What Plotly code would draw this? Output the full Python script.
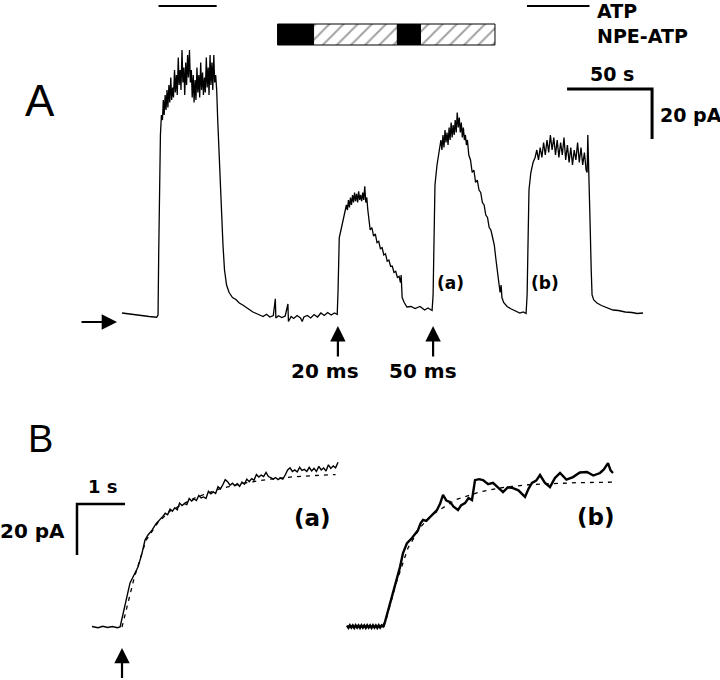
import plotly.graph_objects as go

# ---------------- Panel A data: whole-cell current (pA) vs time (s) ----------------
panel_a_trace = [
    (0, 0.8), (4, 0.4), (8, 0.2), (12, -0.2), (16, -0.6), (20.4, -0.9),
    (21.2, 0), (21.6, 25), (22.1, 55), (22.6, 72), (23.2, 80), (23.8, 78),
    (24.3, 86), (24.8, 80), (25.4, 88), (25.9, 82), (26.5, 90), (27.0, 83), (27.6, 92), (28.1, 85),
    (28.7, 95), (29.2, 86), (29.8, 91), (30.3, 87), (30.9, 98), (31.4, 89), (32.0, 96), (32.5, 88),
    (33.1, 103), (33.6, 92), (34.2, 98), (34.7, 90), (35.3, 106), (35.8, 93), (36.4, 99), (36.9, 88),
    (37.5, 101), (38.0, 92), (38.6, 104), (39.1, 95), (39.7, 106), (40.2, 93), (40.8, 98), (41.3, 87),
    (41.9, 96), (42.4, 85), (43.0, 94), (43.5, 86), (44.1, 99), (44.6, 89), (45.2, 96), (45.7, 87),
    (46.3, 101), (46.8, 90), (47.4, 97), (47.9, 88), (48.5, 95), (49.0, 89), (49.6, 103), (50.1, 91),
    (50.7, 99), (51.2, 88), (51.8, 104), (52.3, 92), (52.9, 101), (53.4, 90), (54.0, 104), (54.5, 93),
    (55.1, 96),
    (55.7, 90), (56.3, 78), (57.0, 65), (57.7, 55), (58.5, 40), (59.4, 28), (60.3, 18), (61.5, 12),
    (63.0, 9), (65, 7), (67, 6.2), (69, 4.8), (71, 4), (73, 3), (75, 2.2), (77, 1.2), (79, 0.6),
    (81, 0), (83, -0.6), (85, 0.3), (87, -0.8), (89, -0.2), (90.2, 6.5), (90.5, -1.2), (92, -0.3),
    (94, -1.0), (96, -0.4), (97.6, 4.4), (97.9, -2.6), (99.5, -0.6), (101, -1.4), (103, -0.2),
    (105, -1.2), (106, -2.6), (107, -0.8), (109, -0.2), (111, -1.2), (113, 0.2), (115, -0.8),
    (117, 0.8), (119, -0.2), (121, 1.0), (123, 0.0), (125, 0.8), (126.6, 0.2),
    (127.1, 10), (127.4, 26), (127.8, 31), (128.8, 34), (130, 38), (131.2, 41), (132, 44), (132.6, 42),
    (133.2, 46), (133.8, 43), (134.4, 47), (135, 44), (135.6, 48), (136.2, 45), (136.8, 49), (137.4, 45.5),
    (138, 48.5), (138.6, 45), (139.2, 49.5), (139.8, 46), (140.4, 48), (141, 45.5), (141.6, 49), (142.2, 46),
    (142.8, 51.5), (143.4, 45), (144, 47), (144.6, 42), (145.4, 37), (146, 34), (147, 35), (148, 31.5),
    (149, 32.5), (150, 29), (151, 29.5), (152, 26.5), (153, 27), (154, 24), (155, 24.5), (156, 21.5),
    (157, 22), (158, 19.5), (159, 19.5), (160, 17), (161, 17.5), (162, 15), (163, 15.5), (163.8, 13),
    (164.2, 16), (164.8, 7), (166, 5), (167.6, 3.2), (170, 3.4), (172.4, 2.6), (175.3, 3.4), (178, 2),
    (180, 2.8), (182.4, 1.8),
    (183.0, 8), (183.3, 26), (184.1, 52), (185.3, 60), (186.2, 64), (187, 66), (187.6, 70), (188.2, 66),
    (188.8, 72), (189.4, 67), (190, 74), (190.6, 69), (191.2, 73), (191.8, 68), (192.4, 75), (193, 70),
    (193.6, 77), (194.2, 71), (194.8, 76), (195.4, 72), (196, 78), (196.6, 73), (197.2, 81), (197.8, 75),
    (198.4, 79), (199, 73), (199.6, 77), (200.2, 71), (200.8, 75), (201.4, 70), (202, 72), (202.6, 68),
    (203.2, 70), (204, 64), (205, 62), (206, 57), (207, 58), (208, 53), (209, 54), (210, 50), (211, 49),
    (212, 45), (213, 44), (214, 40), (215, 39), (216, 35), (217, 34), (218, 31), (219, 28), (220, 22),
    (220.6, 19), (221.5, 14), (222.4, 9), (223, 12), (223.5, 7), (224.5, 5), (226.5, 3.4), (229, 2.4),
    (231, 1.8), (234, 0.8), (236, 1.2), (237.7, 0.6),
    (238.3, 8), (238.8, 26), (239.4, 50), (240.5, 57), (241.8, 61), (243, 63), (244, 66), (245, 62),
    (246, 67), (247, 63), (248, 69), (249, 64), (250, 70), (251, 65), (252, 72), (253, 66), (254, 71),
    (255, 64), (256, 70), (257, 63), (258, 69), (259, 64), (260, 71), (261, 62), (262, 68), (263, 61),
    (264, 67), (265, 60), (266, 66), (267, 62), (268, 69), (269, 61), (270, 67), (271, 60), (272, 65),
    (273, 58), (273.6, 57), (274, 72), (274.6, 60), (275.3, 38), (276, 18), (276.5, 8), (277.5, 6),
    (279.4, 4.8), (282, 3.8), (284, 3.2), (286, 2.8), (288.8, 2.0), (292, 1.8), (296, 1.2), (300, 1.0),
    (303, 0.6), (306.5, 0.8),
]

# ATP application periods (s)
atp_on = [21.5, 238.2]
atp_off = [55.7, 275.0]

# NPE-ATP (caged ATP) bar segments: start (s), end (s), kind
npe_start = [91.5, 112.7, 162.0, 175.6]
npe_end = [112.7, 162.0, 175.6, 219.4]
npe_kind = ["solid", "hatched", "solid", "hatched"]

# photolysis flashes (s) and their durations
flash_times_a = [127.0, 183.0]
flash_labels = ["20 ms", "50 ms"]

# ---------------- Panel B data: expanded onsets (t=0 at flash) ----------------
panel_b_a = [
    (-0.625, 0.2), (-0.5, -0.3), (-0.4, 0.3), (-0.3, -0.2), (-0.2, 0.2), (-0.1, -0.3), (-0.04, 0.0),
    (0.021, 5.5), (0.104, 11.8), (0.167, 17.3), (0.271, 21.2), (0.333, 23.5), (0.417, 29.0),
    (0.479, 34.1), (0.542, 36.1), (0.625, 38.0), (0.71, 40.5), (0.792, 42.0),
    (0.85, 43.4), (0.9, 44.6), (0.95, 44.0), (1.0, 46.2), (1.05, 45.4), (1.1, 46.8), (1.15, 46.0),
    (1.2, 48.6), (1.25, 47.6), (1.3, 48.4), (1.35, 48.0), (1.4, 50.4), (1.45, 49.4), (1.5, 50.2),
    (1.55, 49.6), (1.6, 51.6), (1.65, 50.6), (1.7, 51.0), (1.75, 50.4), (1.8, 53.2), (1.85, 52.2),
    (1.9, 53.0), (1.95, 52.4), (2.0, 55.0), (2.05, 54.2), (2.1, 55.8), (2.15, 57.8), (2.2, 57.0),
    (2.25, 55.6), (2.3, 56.4), (2.35, 55.4), (2.4, 56.2), (2.45, 55.2), (2.5, 56.8), (2.55, 56.0),
    (2.6, 58.0), (2.65, 57.0), (2.7, 58.2), (2.75, 57.6), (2.8, 59.8), (2.85, 58.8), (2.9, 59.6),
    (2.95, 59.0), (3.0, 60.6), (3.05, 59.0), (3.1, 58.6), (3.15, 58.0), (3.2, 58.6), (3.25, 57.8),
    (3.3, 58.4), (3.35, 58.0), (3.4, 59.6), (3.45, 61.6), (3.5, 62.4), (3.55, 61.0), (3.6, 61.6),
    (3.65, 60.8), (3.7, 62.6), (3.75, 61.4), (3.8, 61.8), (3.85, 61.0), (3.9, 62.6), (3.95, 61.2),
    (4.0, 62.2), (4.05, 61.0), (4.1, 63.0), (4.15, 61.6), (4.2, 62.4), (4.25, 61.2), (4.3, 63.6),
    (4.35, 62.2), (4.4, 63.2), (4.45, 62.4), (4.5, 64.6),
]
fit_b_a = [(0.0, 0), (0.25, 19), (0.5, 34), (0.75, 41), (1.0, 45.5), (1.5, 50.5), (2.0, 54),
           (2.5, 56.3), (3.0, 57.8), (3.5, 58.8), (4.0, 59.4), (4.45, 59.8)]

panel_b_b = [
    (-0.771, 0.6), (-0.74, -0.3), (-0.71, 0.7), (-0.68, -0.2), (-0.65, 0.6), (-0.62, -0.3),
    (-0.59, 0.7), (-0.56, -0.2), (-0.53, 0.6), (-0.50, -0.3), (-0.47, 0.7), (-0.44, -0.2),
    (-0.41, 0.6), (-0.38, -0.3), (-0.35, 0.7), (-0.32, -0.2), (-0.29, 0.6), (-0.26, -0.3),
    (-0.23, 0.7), (-0.20, -0.2), (-0.17, 0.6), (-0.14, -0.3), (-0.11, 0.7), (-0.08, -0.2),
    (-0.05, 0.6), (-0.021, 0.2),
    (0.021, 2.0), (0.125, 9.4), (0.229, 15.7), (0.333, 23.5), (0.396, 29.0), (0.479, 32.9),
    (0.583, 34.9), (0.65, 36.8), (0.708, 38.0), (0.76, 40.6), (0.813, 42.0), (0.88, 41.6),
    (0.958, 43.1), (1.03, 44.6), (1.104, 45.9), (1.17, 48.4), (1.229, 51.8), (1.3, 49.6),
    (1.375, 49.0), (1.45, 47.2), (1.542, 45.9), (1.61, 47.8), (1.688, 48.6), (1.76, 50.6),
    (1.833, 49.8), (1.896, 57.6), (1.98, 58.0), (2.063, 57.6), (2.17, 56.0), (2.271, 56.5),
    (2.37, 54.6), (2.479, 52.9), (2.58, 54.8), (2.688, 54.5), (2.8, 53.6), (2.938, 51.0),
    (3.01, 54.2), (3.083, 56.5), (3.17, 57.4), (3.25, 59.6), (3.35, 56.6), (3.458, 54.9),
    (3.56, 58.4), (3.667, 60.4), (3.8, 57.8), (3.938, 58.8), (4.08, 60.6), (4.229, 60.8),
    (4.36, 59.4), (4.5, 60.4), (4.58, 61.8), (4.667, 64.3), (4.72, 61.4), (4.771, 60.4),
]
fit_b_b = [(0.0, 0), (0.25, 17), (0.5, 31), (0.75, 39), (1.0, 44), (1.5, 50), (2.0, 53),
           (2.5, 54.8), (3.0, 55.8), (3.5, 56.3), (4.0, 56.6), (4.77, 56.8)]

# scale bars (values in axis units)
scale_a_sec, scale_a_pa = 50, 20
scale_b_sec, scale_b_pa = 1, 20

W, H = 720, 680
BOLD = "DejaVu Sans"
fig = go.Figure()

def xy(pairs):
    return [p[0] for p in pairs], [p[1] for p in pairs]

# ---- Panel A ----
tx, ty = xy(panel_a_trace)
fig.add_trace(go.Scatter(x=tx, y=ty, mode="lines", line=dict(color="black", width=1.3),
                         xaxis="x", yaxis="y", hoverinfo="skip"))

atp_y = 123.6
ax_, ay_ = [], []
for a, b in zip(atp_on, atp_off):
    ax_ += [a, b, None]
    ay_ += [atp_y, atp_y, None]
fig.add_trace(go.Scatter(x=ax_, y=ay_, mode="lines", line=dict(color="black", width=2),
                         xaxis="x", yaxis="y", hoverinfo="skip"))

fig.add_trace(go.Bar(
    orientation="h", y=[112.2] * len(npe_start),
    x=[e - s for s, e in zip(npe_start, npe_end)], base=npe_start, width=8.4,
    marker=dict(color=["black" if k == "solid" else "white" for k in npe_kind],
                line=dict(color="black", width=1),
                pattern=dict(shape=["" if k == "solid" else "/" for k in npe_kind],
                             fgcolor="black", size=10, solidity=0.2)),
    xaxis="x", yaxis="y", hoverinfo="skip"))

# scale bar A
sa_t0, sa_i0 = 261.8, 90.4
fig.add_trace(go.Scatter(x=[sa_t0, sa_t0 + scale_a_sec, sa_t0 + scale_a_sec],
                         y=[sa_i0, sa_i0, sa_i0 - scale_a_pa], mode="lines",
                         line=dict(color="black", width=3), xaxis="x", yaxis="y", hoverinfo="skip"))

# ---- Panel B ----
bx, by = xy(panel_b_a)
fig.add_trace(go.Scatter(x=bx, y=by, mode="lines", line=dict(color="black", width=1.4),
                         xaxis="x2", yaxis="y2", hoverinfo="skip"))
fx, fy = xy(fit_b_a)
fig.add_trace(go.Scatter(x=fx, y=fy, mode="lines", line=dict(color="black", width=1.3, dash="4px,5px"),
                         xaxis="x2", yaxis="y2", hoverinfo="skip"))
bx, by = xy(panel_b_b)
fig.add_trace(go.Scatter(x=bx, y=by, mode="lines", line=dict(color="black", width=2.4),
                         xaxis="x3", yaxis="y2", hoverinfo="skip"))
fx, fy = xy(fit_b_b)
fig.add_trace(go.Scatter(x=fx, y=fy, mode="lines", line=dict(color="black", width=1.3, dash="4px,5px"),
                         xaxis="x3", yaxis="y2", hoverinfo="skip"))

sb_t0, sb_i0 = -0.938, 48.2
fig.add_trace(go.Scatter(x=[sb_t0 + scale_b_sec, sb_t0, sb_t0],
                         y=[sb_i0, sb_i0, sb_i0 - scale_b_pa], mode="lines",
                         line=dict(color="black", width=2.5), xaxis="x2", yaxis="y2", hoverinfo="skip"))

ann = []
def txt(s, px, py, size, xanchor="center", bold=True, family=BOLD):
    ann.append(dict(text=f"<b>{s}</b>" if bold else s, x=px / W, y=1 - py / H,
                    xref="paper", yref="paper",
                    xanchor=xanchor, yanchor="middle", showarrow=False,
                    font=dict(family=family, size=size, color="black")))

def arrow(xref, yref, x, y, axv, ayv):
    ann.append(dict(text="", x=x, y=y, ax=axv, ay=ayv, xref=xref, yref=yref, axref=xref, ayref=yref,
                    showarrow=True, arrowhead=2, arrowsize=1.4, arrowwidth=2.2, arrowcolor="black"))

# Panel A texts
txt("A", 40, 100, 44, bold=False, family="Liberation Sans")
txt("ATP", 595, 11, 19, "left")
txt("NPE-ATP", 595, 36, 19, "left")
txt("50 s", 612, 74, 19)
txt("20 pA", 658, 115, 19, "left")
for t, lab, cx in zip(flash_times_a, flash_labels, [325, 423]):
    arrow("x", "y", t, -4.4, t, -17.2)
    txt(lab, cx, 371, 20)
txt("(a)", 450, 283, 17)
txt("(b)", 545, 283, 17)
# resting-level arrow
arrow("x", "y", -2.9, -2.8, -24.7, -2.8)

# Panel B texts
txt("B", 40, 439, 38, bold=False, family="Liberation Sans")
txt("1 s", 103, 486, 18)
txt("20 pA", 67, 531, 20, "right")
txt("(a)", 312, 518, 23)
txt("(b)", 596, 517, 23)
arrow("x2", "y2", 0.0, -8.2, 0.0, -20.6)

hid = dict(visible=False, showgrid=False, zeroline=False, domain=[0, 1])
fig.update_layout(
    width=W, height=H, margin=dict(l=0, r=0, t=0, b=0),
    paper_bgcolor="white", plot_bgcolor="rgba(0,0,0,0)", showlegend=False,
    hovermode=False,
    xaxis=dict(range=[-71.76, 351.76], anchor="y", **hid),
    yaxis=dict(range=[-146, 126], anchor="x", **hid),
    xaxis2=dict(range=[-2.542, 12.458], anchor="y2", **hid),
    yaxis2=dict(range=[-20.78, 245.9], anchor="x2", **hid),
    xaxis3=dict(range=[-8.0, 7.0], anchor="y2", **hid),
    annotations=ann,
)
fig.write_html("out.html", config={"displayModeBar": False, "staticPlot": True},
               post_script="document.body.style.margin='0px';")
